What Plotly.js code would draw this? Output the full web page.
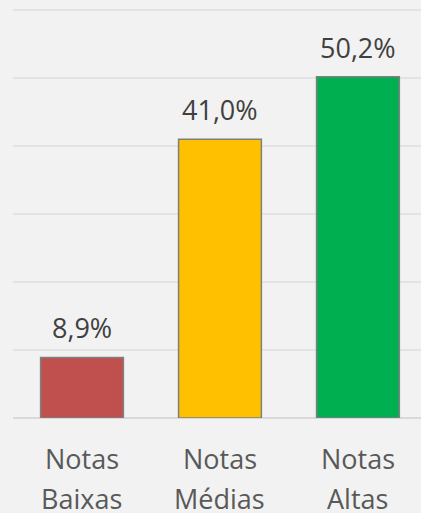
<!DOCTYPE html>
<html>
<head>
<meta charset="utf-8">
<script src="https://cdn.plot.ly/plotly-3.0.1.min.js"></script>
<style>
  html, body { margin: 0; padding: 0; background: #f2f2f2; }
  #chart { width: 421px; height: 513px; }
</style>
</head>
<body>
<div id="chart"></div>
<script>
const categoriesLine1 = ["Notas", "Notas", "Notas"];
const categoriesLine2 = ["Baixas", "Médias", "Altas"];
const values = [8.9, 41.0, 50.2];
const valueLabels = ["8,9%", "41,0%", "50,2%"];
const barColors = ["#c0504d", "#ffc000", "#00b050"];

const FONT = "Open Sans, sans-serif";

const trace = {
  type: "bar",
  x: [0, 1, 2],
  y: values,
  marker: { color: barColors, line: { color: "#7f7f7f", width: 1.5 } },
  hoverinfo: "none"
};

const annotations = [];
values.forEach((v, i) => {
  annotations.push({
    x: i, y: v, xref: "x", yref: "y",
    text: valueLabels[i], showarrow: false,
    yanchor: "bottom", yshift: 9,
    font: { family: FONT, size: 27, color: "#404040" }
  });
  annotations.push({
    x: i, y: 0, xref: "x", yref: "paper",
    text: categoriesLine1[i], showarrow: false,
    yanchor: "top", yshift: -20,
    font: { family: FONT, size: 27, color: "#595959" }
  });
  annotations.push({
    x: i, y: 0, xref: "x", yref: "paper",
    text: categoriesLine2[i], showarrow: false,
    yanchor: "top", yshift: -60,
    font: { family: FONT, size: 27, color: "#595959" }
  });
});

const layout = {
  width: 421, height: 513,
  margin: { l: 13, r: 0, t: 8, b: 94.5 },
  paper_bgcolor: "#f2f2f2",
  plot_bgcolor: "#f2f2f2",
  bargap: 0.4,
  showlegend: false,
  xaxis: {
    range: [-0.5, 2.457],
    tickvals: [0, 1, 2],
    showticklabels: false,
    showgrid: false, zeroline: false, showline: false,
    ticks: "",
    fixedrange: true
  },
  yaxis: {
    range: [0, 60.3],
    dtick: 10,
    showticklabels: false,
    showgrid: true, gridcolor: "#e3e3e3", gridwidth: 1.5,
    zeroline: true, zerolinecolor: "#d9d9d9", zerolinewidth: 1.5,
    showline: false, ticks: "",
    fixedrange: true
  },
  annotations: annotations
};

Plotly.newPlot("chart", [trace], layout, { staticPlot: true });
</script>
</body>
</html>
